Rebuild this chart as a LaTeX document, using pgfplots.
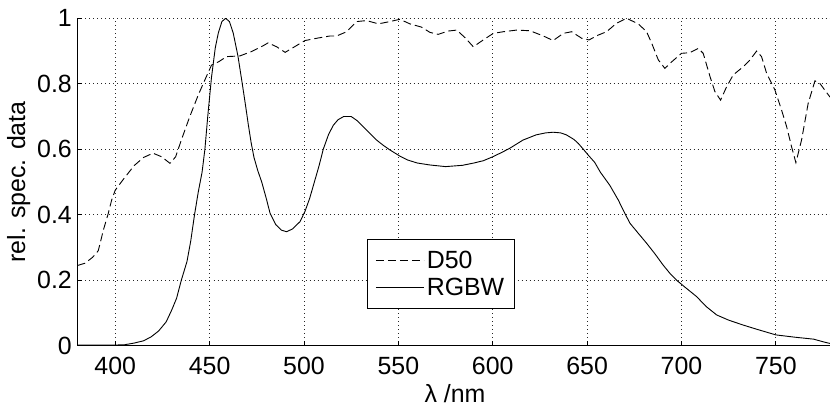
\documentclass[border=0pt]{standalone}
\usepackage{pgfplots}
\pgfplotsset{compat=1.18}
\usepackage{fontspec}
\setmainfont{Liberation Sans}
\begin{document}
\begin{tikzpicture}
\path[use as bounding box] (-77.5bp,-60.3bp) rectangle (752.5bp,345.7bp);
\begin{axis}[
  scale only axis,
  width=755bp, height=327.4bp,
  xmin=380, xmax=780, ymin=0, ymax=1,
  axis x line*=bottom, axis y line*=left,
  axis line style={-, black, line width=0.9bp},
  xtick={400,450,...,750},
  ytick={0,0.2,...,1},
  tick align=inside,
  major tick length=5bp,
  tick style={black, line width=0.8bp},
  grid=major,
  major grid style={black!85, line width=0.8bp, dash pattern=on 1bp off 3bp},
  font=\fontsize{25}{30}\selectfont,
  /pgf/number format/assume math mode=true,
  xticklabel style={inner sep=0pt, anchor=north, yshift=-11.5bp},
  yticklabel style={inner sep=0pt, anchor=east, xshift=-5.5bp},
  xlabel={λ /nm},
  ylabel={rel. spec. data},
  xlabel style={at={(axis description cs:0.5,-0.172)}, anchor=base, inner sep=0pt},
  ylabel style={at={(axis description cs:-0.078,0.5)}, anchor=center, inner sep=0pt},
  legend style={at={(axis description cs:0.3834,0.325)}, anchor=north west,
    draw=black, line width=0.8bp, fill=white, inner xsep=8bp, inner ysep=9bp,
    row sep=3bp, nodes={inner sep=2.5bp}, font=\fontsize{25}{30}\selectfont},
  legend cell align=left,
  legend image code/.code={\draw[#1] (0bp,0bp) -- (48bp,0bp);},
]
\addplot[black, line width=0.9bp, dash pattern=on 8bp off 4bp] coordinates {
(380,0.245)(384,0.252)(388,0.27)(391,0.29)(393.7,0.353)(396.3,0.404)(398.1,0.445)(400,0.475)
(404,0.506)(410,0.55)(415,0.575)(420,0.588)(424.6,0.577)(429,0.557)(432,0.577)(435,0.628)
(439.5,0.70)(444,0.766)(447.5,0.812)(451,0.857)(455,0.868)(459,0.883)(466,0.885)(472,0.898)
(478,0.915)(481,0.925)(485.5,0.913)(490,0.896)(495,0.913)(500.5,0.932)(506.7,0.939)(513.8,0.946)
(517.3,0.946)(522.6,0.959)(527.9,0.99)(533.2,0.993)(539.4,0.983)(545.5,0.99)(550.8,0.997)
(556.1,0.983)(562.3,0.973)(566.7,0.957)(571.1,0.951)(576.4,0.961)(580.9,0.964)(585.3,0.941)
(589.7,0.913)(595,0.934)(600.3,0.954)(605.6,0.959)(612.7,0.964)(619.7,0.962)(626.8,0.946)
(632,0.932)(637.4,0.954)(641.8,0.959)(647.1,0.939)(651,0.934)(656,0.949)(660.3,0.959)
(665.6,0.985)(670.9,1.0)(677.1,0.983)(681.5,0.959)(684.2,0.924)(687.7,0.873)(691.2,0.847)
(694.8,0.867)(700,0.893)(704.4,0.895)(708.9,0.908)(711.5,0.893)(715.1,0.822)(717.7,0.776)
(720.7,0.75)(723.9,0.791)(727.4,0.827)(732.7,0.852)(736.3,0.873)(739.8,0.9)(742.4,0.883)
(745.1,0.832)(749.5,0.781)(753,0.72)(755.7,0.669)(758.3,0.608)(760.6,0.559)(763.6,0.628)
(767.1,0.74)(770.7,0.809)(773.3,0.801)(778.6,0.76)(780,0.755)
};
\addlegendentry{D50}
\addplot[black, line width=0.9bp] coordinates {
(380,0.002)(390,0.002)(400,0.002)(405,0.003)(410,0.008)(415,0.015)(419,0.027)(423,0.045)
(427,0.073)(430,0.11)(432.5,0.145)(435,0.2)(438,0.257)(440,0.32)(442,0.4)(444,0.47)(446,0.53)
(447.5,0.6)(449,0.70)(451,0.82)(453,0.91)(454.6,0.955)(456.5,0.99)(458.5,1.0)(460.5,0.99)
(462.5,0.955)(465,0.885)(467.3,0.80)(469,0.735)(470.5,0.675)(472,0.62)(473.5,0.575)
(475.5,0.535)(477.6,0.5)(480,0.45)(482,0.405)(485,0.37)(488,0.353)(490.8,0.348)(494,0.357)
(497.9,0.379)(500.5,0.41)(503,0.45)
(505.8,0.506)(508,0.55)(510.2,0.6)(513,0.645)(515.5,0.673)(518,0.69)(521,0.70)(525,0.70)
(528,0.688)(531.4,0.669)(535,0.648)(538.5,0.628)(542,0.612)(545.5,0.598)(550.8,0.579)
(555,0.567)(560,0.558)(566.7,0.552)(575,0.547)(584,0.551)(590,0.558)(595,0.565)(600,0.577)
(605,0.591)(609,0.603)(616,0.628)(623,0.644)(628,0.650)(632,0.652)(636,0.650)(639,0.644)
(643,0.63)(645.3,0.618)(648,0.600)(650.6,0.582)(654,0.56)(657,0.53)(660,0.506)(662,0.49)
(666.5,0.445)(670,0.404)(672.7,0.374)(677,0.344)(681.5,0.313)(686,0.28)(690.3,0.246)
(694,0.22)(697.4,0.2)(702,0.178)(708,0.15)(713,0.12)(718.6,0.094)(725,0.078)(732.7,0.063)
(740,0.05)(750,0.033)(760,0.026)(770,0.02)(775,0.012)(780,0.005)
};
\addlegendentry{RGBW}
\end{axis}
\end{tikzpicture}
\end{document}
